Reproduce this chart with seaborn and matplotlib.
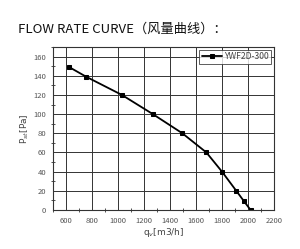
import pandas as pd
import numpy as np
import matplotlib.pyplot as plt
import seaborn as sns
from matplotlib.ticker import MultipleLocator

flow = [625, 755, 1030, 1268, 1495, 1680, 1800, 1910, 1970, 2020]
pressure = [149, 139, 120, 100, 80, 60, 40, 20, 9, 0]
series = 'YWF2D-300'

df = pd.DataFrame({'qv': flow, 'pst': pressure, 'model': series})

sns.set_style('white')
plt.rcParams['font.family'] = ['Noto Sans CJK SC', 'DejaVu Sans']

fig = plt.figure(figsize=(3.0, 2.49), dpi=100)
ax = fig.add_axes([0.177, 0.157, 0.736, 0.654])

sns.lineplot(data=df, x='qv', y='pst', hue='model', palette=['black'],
             marker='s', markersize=3, markeredgecolor='black',
             linewidth=1.3, sort=False, ax=ax)

ax.set_xlim(500, 2200)
ax.set_ylim(0, 170)
ax.xaxis.set_major_locator(MultipleLocator(200))
ax.xaxis.set_minor_locator(MultipleLocator(100))
ax.yaxis.set_major_locator(MultipleLocator(20))
ax.yaxis.set_minor_locator(MultipleLocator(10))
ax.grid(True, which='major', color='#333333', linewidth=0.7)
ax.tick_params(which='both', direction='inout', labelsize=5.5, labelcolor='#555555', color='#333333')
ax.tick_params(which='major', length=4, pad=3)
ax.tick_params(which='minor', length=3, bottom=True, left=True)
for s in ax.spines.values():
    s.set_color('#333333')
    s.set_linewidth(0.8)

ax.set_xlabel(r'q$_v$[m3/h]', fontsize=6.5, color='#444444', labelpad=1, family='DejaVu Sans')
ax.set_ylabel(r'P$_{st}$[Pa]', fontsize=6.5, color='#444444', labelpad=2, family='DejaVu Sans')

leg = ax.legend(loc='upper right', fontsize=6.2, frameon=True, fancybox=False,
                edgecolor='#333333', handlelength=2.4, borderpad=0.3,
                handletextpad=0.2, borderaxespad=0.3)
leg.get_frame().set_linewidth(0.7)
for t in leg.get_texts():
    t.set_color('#444444')

fig.text(0.06, 0.87, 'FLOW RATE CURVE（风量曲线）：', fontsize=9.5, color='#111111')

fig.savefig('out.png', dpi=100)
